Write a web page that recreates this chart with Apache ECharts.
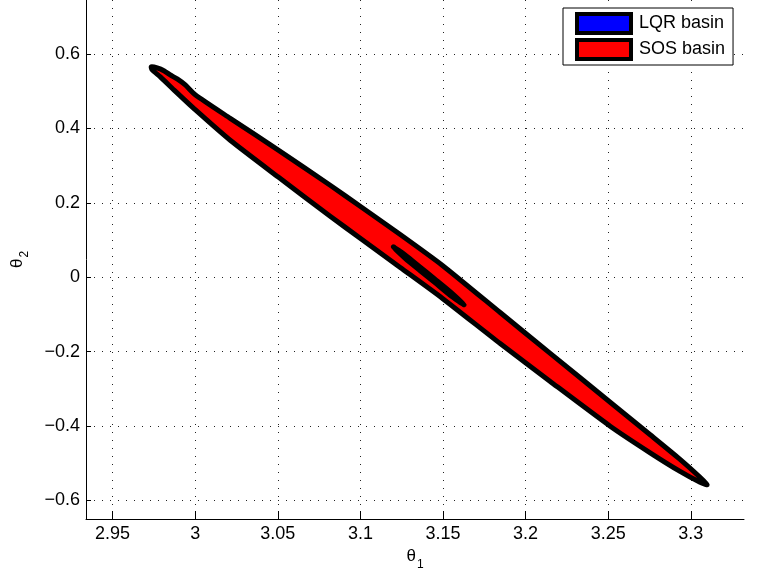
<!DOCTYPE html>
<html>
<head>
<meta charset="utf-8">
<script src="https://cdn.jsdelivr.net/npm/echarts@6/dist/echarts.min.js"></script>
<style>
html, body { margin: 0; padding: 0; background: #fff; }
#chart { width: 760px; height: 575px; }
</style>
</head>
<body>
<div id="chart"></div>
<script>
// axis ranges and tick positions
const xRange = [2.9339, 3.3322];
const yRange = [-0.65, 0.745];
const xTicks = [2.95, 3, 3.05, 3.1, 3.15, 3.2, 3.25, 3.3];
const yTicks = [-0.6, -0.4, -0.2, 0, 0.2, 0.4, 0.6];

// SOS basin outline: upper edge from the left tip, then lower edge back
const sosBasin = [
  [2.9734, 0.5651], [2.9770, 0.5624], [2.9813, 0.5543], [2.9849, 0.5436],
  [2.9891, 0.5328], [2.9940, 0.5167], [3.0000, 0.4904], [3.0212, 0.4270],
  [3.0503, 0.3415], [3.0817, 0.2470], [3.1005, 0.1887], [3.1241, 0.1148],
  [3.1495, 0.0323], [3.1846, -0.0951], [3.2149, -0.2049], [3.2512, -0.3361],
  [3.2754, -0.4236], [3.2935, -0.4897], [3.3056, -0.5378], [3.3099, -0.5580],
  [3.3056, -0.5513], [3.2935, -0.5220], [3.2754, -0.4720], [3.2512, -0.4005],
  [3.2149, -0.2802], [3.1846, -0.1783], [3.1495, -0.0564], [3.1241, 0.0261],
  [3.1005, 0.1027], [3.0817, 0.1637], [3.0503, 0.2690], [3.0212, 0.3679],
  [3.0000, 0.4501], [2.9879, 0.5001], [2.9789, 0.5382], [2.9740, 0.5570]
];

// LQR basin outline (thin sliver near the origin)
const lqrBasin = [
  [3.1199, 0.0815], [3.1271, 0.0598], [3.1362, 0.0268], [3.1453, -0.0060],
  [3.1543, -0.0390], [3.1628, -0.0744], [3.1543, -0.0485], [3.1453, -0.0155],
  [3.1362, 0.0173], [3.1271, 0.0505]
];

const font = 'Liberation Sans, Arial, Helvetica, sans-serif';

function fmt(v) {
  return (v < 0 ? '\u2212' : '') + Math.abs(v);
}

function polygon(points, fill) {
  return function (params, api) {
    if (params.dataIndex !== 0) return null;
    return {
      type: 'polygon',
      shape: { points: points.map(p => api.coord(p)), smooth: 0.2 },
      style: { fill: fill, stroke: '#000', lineWidth: 5, lineJoin: 'round' }
    };
  };
}

const chart = echarts.init(document.getElementById('chart'));
chart.setOption({
  animation: false,
  grid: { left: 86, right: 16, top: 0, bottom: 56, containLabel: false, outerBoundsMode: 'none' },
  xAxis: {
    type: 'value',
    min: xRange[0],
    max: xRange[1],
    name: '{t|θ}{s|1}',
    nameLocation: 'middle',
    nameGap: 18,
    nameTextStyle: {
      rich: {
        t: { fontSize: 17, fontFamily: font, color: '#000' },
        s: { fontSize: 12, fontFamily: font, color: '#000', padding: [16, 0, 0, 1] }
      }
    },
    axisLine: { show: true, onZero: false, lineStyle: { color: '#000', width: 1 } },
    axisTick: { show: true, inside: true, length: 8, customValues: xTicks, lineStyle: { color: '#000' } },
    axisLabel: { customValues: xTicks, formatter: fmt, margin: 6, fontSize: 18, fontFamily: font, color: '#000' },
    splitLine: { show: true, lineStyle: { color: '#222', width: 1, type: [1, 7] } }
  },
  yAxis: {
    type: 'value',
    min: yRange[0],
    max: yRange[1],
    name: '{t|θ}{s|2}',
    nameLocation: 'middle',
    nameRotate: 90,
    nameGap: 55,
    nameTextStyle: {
      rich: {
        t: { fontSize: 17, fontFamily: font, color: '#000' },
        s: { fontSize: 12, fontFamily: font, color: '#000', padding: [16, 0, 0, 1] }
      }
    },
    axisLine: { show: true, onZero: false, lineStyle: { color: '#000', width: 1 } },
    axisTick: { show: true, inside: true, length: 5, customValues: yTicks, lineStyle: { color: '#000' } },
    axisLabel: { customValues: yTicks, formatter: fmt, margin: 6, fontSize: 18, fontFamily: font, color: '#000' },
    splitLine: { show: true, lineStyle: { color: '#222', width: 1, type: [1, 7] } }
  },
  legend: {
    orient: 'vertical',
    left: 563,
    top: 8,
    padding: [4, 8, 4, 12],
    itemWidth: 54,
    itemHeight: 19,
    itemGap: 3,
    selectedMode: false,
    backgroundColor: '#fff',
    borderColor: '#000',
    borderWidth: 1,
    textStyle: { fontSize: 18, fontFamily: font, color: '#000', padding: [0, 0, 0, 3] },
    data: [
      { name: 'LQR basin', icon: 'rect', itemStyle: { color: '#0000ff', borderColor: '#000', borderWidth: 4 } },
      { name: 'SOS basin', icon: 'rect', itemStyle: { color: '#ff0000', borderColor: '#000', borderWidth: 4 } }
    ]
  },
  series: [
    {
      name: 'SOS basin',
      type: 'custom',
      renderItem: polygon(sosBasin, '#ff0000'),
      itemStyle: { color: '#ff0000' },
      data: sosBasin,
      z: 2
    },
    {
      name: 'LQR basin',
      type: 'custom',
      renderItem: polygon(lqrBasin, '#0000ff'),
      itemStyle: { color: '#0000ff' },
      data: lqrBasin,
      z: 3
    }
  ]
});
</script>
</body>
</html>
